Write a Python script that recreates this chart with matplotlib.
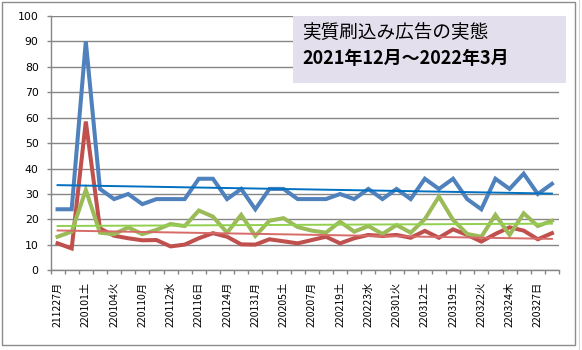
import matplotlib
matplotlib.use("Agg")
import matplotlib.pyplot as plt
import numpy as np
from matplotlib.patches import Rectangle

plt.rcParams['font.family'] = ['Noto Sans CJK JP', 'DejaVu Sans']

DATES = [
    "211227月", "", "220101土", "", "220104火", "", "220110月", "", "220112水", "",
    "220116日", "", "220124月", "", "220131月", "", "220205土", "", "220207月", "",
    "220219土", "", "220223水", "", "220301火", "", "220312土", "", "220319土", "",
    "220322火", "", "220324木", "", "220327日", "",
]
BLUE_VALUES = [24, 24, 90, 32, 28, 30, 26, 28, 28, 28, 36, 36, 28, 32, 24, 32, 32, 28,
               28, 28, 30, 28, 32, 28, 32, 28, 36, 32, 36, 28, 24, 36, 32, 38, 30, 34]
RED_VALUES = [10.6, 8.6, 58.5, 16.5, 13.6, 12.6, 11.8, 11.9, 9.4, 10.1, 12.6, 14.6,
              13.2, 10.2, 10.1, 12.2, 11.4, 10.6, 11.9, 13.2, 10.6, 12.6, 13.9, 13.5,
              13.9, 12.8, 15.5, 12.8, 16.1, 13.9, 11.3, 14.3, 16.9, 15.6, 12.2, 14.6]
GREEN_VALUES = [13.2, 15.2, 31.6, 14.8, 14.2, 16.9, 14.2, 15.9, 18.2, 17.4, 23.5, 21.1,
                14.8, 21.8, 13.5, 19.5, 20.5, 17.0, 15.6, 14.8, 19.1, 15.2, 17.4, 14.3,
                17.8, 14.8, 20.1, 29.0, 19.8, 14.3, 13.2, 21.8, 13.9, 22.4, 17.4, 19.5]
Y_TICKS = list(range(0, 101, 10))

TITLE_1 = "実質刷込み広告の実態"
TITLE_2 = "2021年12月～2022年3月"

C_BLUE, C_RED, C_GREEN = "#4F81BD", "#C0504D", "#9BBB59"
C_BLUE_T, C_RED_T, C_GREEN_T = "#0070C0", "#D66B68", "#92D050"
C_GRID = "#868686"

fig = plt.figure(figsize=(5.82, 3.5), dpi=100)
W, H = 582, 350

# chart frame and a bit of the surrounding sheet grid
fig.add_artist(Rectangle((2 / W, 1 - 345 / H), 573 / W, 343 / H,
                         transform=fig.transFigure, fill=False,
                         edgecolor="#8C8C8C", linewidth=1.0))
fig.add_artist(plt.Line2D([579 / W, 579 / W], [0, 1], transform=fig.transFigure,
                          color="#D0D7E5", linewidth=0.8))

left, right, top, bottom = 50.5, 559, 16, 270.3
ax = fig.add_axes([left / W, 1 - bottom / H, (right - left) / W, (bottom - top) / H])

x = np.arange(len(BLUE_VALUES))
for vals, c in ((BLUE_VALUES, C_BLUE), (RED_VALUES, C_RED), (GREEN_VALUES, C_GREEN)):
    ax.plot(x, vals, color=c, linewidth=2.9, solid_joinstyle="miter", zorder=3)

# linear trend of each series, first to last point
for vals, ct in ((BLUE_VALUES, C_BLUE_T), (RED_VALUES, C_RED_T), (GREEN_VALUES, C_GREEN_T)):
    k, b = np.polyfit(x, vals, 1)
    ax.plot([x[0], x[-1]], [k * x[0] + b, k * x[-1] + b], color=ct,
            linewidth=1.4, zorder=4)

ax.set_xlim(-0.5, len(x) - 0.5)
ax.set_ylim(0, 100)
ax.set_yticks(Y_TICKS)
ax.set_yticklabels([str(v) for v in Y_TICKS], family="DejaVu Sans", fontsize=7.8)
ax.yaxis.grid(True, color=C_GRID, linewidth=1.0)
ax.set_axisbelow(True)

ax.set_xticks(x[::2])
ax.set_xticklabels(DATES[::2], rotation=90, fontsize=7.5, va="top", ha="center")
ax.set_xticks(np.arange(len(x) + 1) - 0.5, minor=True)
ax.tick_params(axis="x", which="major", length=0, pad=8.2)
ax.tick_params(axis="x", which="minor", length=3, color=C_GRID, width=1.0)
ax.tick_params(axis="y", length=3, color=C_GRID, width=1.0, pad=5.5)

for side in ("top", "right"):
    ax.spines[side].set_visible(False)
for side in ("left", "bottom"):
    ax.spines[side].set_color(C_GRID)
    ax.spines[side].set_linewidth(1.0)

# title box
fig.add_artist(Rectangle((293 / W, 1 - 83 / H), 273 / W, 67 / H,
                         transform=fig.transFigure, facecolor="#E4DFEC",
                         edgecolor="none", zorder=5))
fig.text(302 / W, 1 - 33 / H, TITLE_1, fontsize=13.4, va="center", ha="left", zorder=6)
fig.text(302 / W, 1 - 59 / H, TITLE_2, fontsize=13.0, fontweight="bold",
         va="center", ha="left", zorder=6)

fig.savefig("out.png", dpi=100)
